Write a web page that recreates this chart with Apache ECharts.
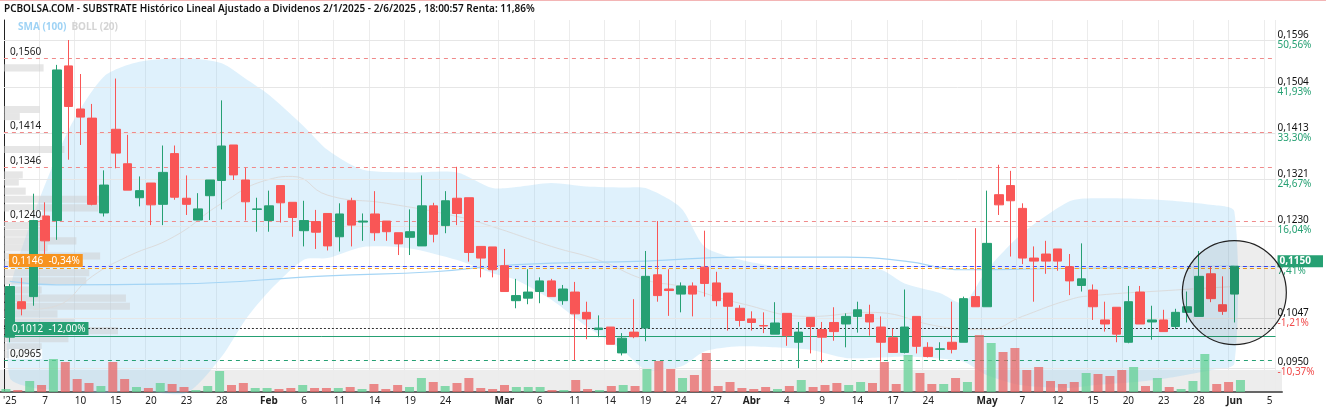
<!DOCTYPE html>
<html>
<head>
<meta charset="utf-8">
<script src="https://cdn.jsdelivr.net/npm/echarts@6/dist/echarts.min.js"></script>
<style>html,body{margin:0;padding:0;background:#fff}#c{width:1326px;height:411px}</style>
</head>
<body>
<div id="c"></div>
<script>
// trading days per month (day numbers)
const janDays = [2,3,6,7,8,9,10,13,14,15,16,17,20,21,22,23,24,27,28,29,30,31];
const febDays = [3,4,5,6,7,10,11,12,13,14,17,18,19,20,21,24,25,26,27,28];
const marDays = [3,4,5,6,7,10,11,12,13,14,17,18,19,20,21,24,25,26,27,28,31];
const aprDays = [1,2,3,4,7,8,9,10,11,14,15,16,17,22,23,24,25,28,29,30];
const mayDays = [2,5,6,7,8,9,12,13,14,15,16,19,20,21,22,23,26,27,28,29,30];
const junDays = [2,3,4,5];

// tick labels shown on the x axis
const tickKeys = ['1-2','1-7','1-10','1-15','1-20','1-23','1-28','2-3','2-6','2-11','2-14','2-19','2-24',
  '3-3','3-6','3-11','3-14','3-19','3-24','3-27','4-1','4-4','4-9','4-14','4-17','4-24',
  '5-2','5-7','5-12','5-15','5-20','5-23','5-28','6-2','6-5'];
const tickText = ["'25",'7','10','15','20','23','28','Feb','6','11','14','19','24',
  'Mar','6','11','14','19','24','27','Abr','4','9','14','17','24',
  'May','7','12','15','20','23','28','Jun','5'];

// [open, close, low, high]
const candles = [
[.1010,.1110,.1000,.1115],[.1080,.1066,.1053,.1127],[.1090,.1240,.1072,.1293],[.1249,.1200,.1169,.1276],
[.1240,.1537,.1202,.1547],[.1545,.1465,.1360,.1596],[.1460,.1444,.1389,.1529],[.1442,.1272,.1270,.1470],
[.1255,.1310,.1248,.1339],[.1420,.1373,.1343,.1520],[.1352,.1300,.1300,.1409],[.1285,.1299,.1268,.1327],
[.1314,.1271,.1231,.1314],[.1272,.1335,.1231,.1388],[.1372,.1286,.1281,.1388],[.1284,.1272,.1251,.1329],
[.1241,.1263,.1241,.1294],[.1289,.1320,.1241,.1320],[.1319,.1387,.1262,.1477],[.1389,.1330,.1320,.1389],
[.1320,.1277,.1240,.1344],[.1262,.1263,.1218,.1285],[.1240,.1269,.1218,.1299],[.1309,.1275,.1236,.1309],
[.1276,.1246,.1208,.1276],[.1220,.1240,.1189,.1279],[.1238,.1217,.1184,.1261],[.1254,.1190,.1181,.1254],
[.1208,.1253,.1179,.1274],[.1279,.1231,.1189,.1285],[.1237,.1239,.1200,.1254],[.1253,.1216,.1200,.1298],
[.1239,.1218,.1200,.1239],[.1216,.1194,.1172,.1216],[.1207,.1218,.1172,.1262],[.1190,.1269,.1190,.1329],
[.1269,.1213,.1197,.1275],[.1230,.1279,.1215,.1298],[.1284,.1254,.1231,.1346],[.1285,.1177,.1159,.1285],
[.1189,.1166,.1128,.1189],[.1188,.1143,.1128,.1188],[.1151,.1100,.1100,.1184],[.1082,.1092,.1067,.1125],
[.1087,.1099,.1075,.1144],[.1100,.1121,.1077,.1128],[.1121,.1090,.1090,.1125],[.1082,.1105,.1074,.1113],
[.1099,.1056,.0965,.1119],[.1059,.1046,.1006,.1080],[.1025,.1028,.1010,.1053],[.1030,.0996,.0996,.1030],
[.0979,.1008,.0974,.1018],[.1020,.1011,.1008,.1085],[.1028,.1130,.1002,.1180],[.1133,.1092,.1080,.1239],
[.1105,.1102,.1052,.1144],[.1095,.1111,.1059,.1118],[.1111,.1095,.1051,.1118],[.1148,.1116,.1090,.1220],
[.1117,.1082,.1071,.1139],[.1097,.1071,.1023,.1097],[.1067,.1043,.1031,.1073],[.1046,.1039,.1023,.1061],
[.1033,.1032,.1018,.1059],[.1016,.1038,.1016,.1079],[.1057,.1013,.0993,.1057],[.1000,.1020,.0949,.1040],
[.1049,.1031,.0978,.1049],[.1025,.1010,.0960,.1040],[.1039,.1021,.1003,.1069],[.1036,.1051,.0990,.1057],
[.1051,.1064,.1019,.1080],[.1055,.1040,.1013,.1074],[.1030,.1000,.0962,.1051],[.1009,.0980,.0980,.1027],
[.0980,.1030,.0978,.1104],[.1051,.0992,.0978,.1051],[.0990,.0972,.0970,.1000],[.0986,.0987,.0964,.1000],
[.1000,.0986,.0978,.1080],[.1000,.1086,.1000,.1090],[.1090,.1070,.1070,.1225],[.1070,.1195,.1070,.1299],
[.1291,.1271,.1251,.1350],[.1309,.1279,.1169,.1338],[.1264,.1166,.1154,.1274],[.1166,.1160,.1080,.1189],
[.1174,.1160,.1135,.1200],[.1184,.1160,.1141,.1184],[.1149,.1121,.1093,.1174],[.1112,.1125,.1100,.1195],
[.1103,.1070,.1044,.1114],[.1044,.1036,.1021,.1080],[.1069,.1016,.1000,.1069],[.1000,.1080,.0998,.1111],
[.1099,.1036,.1036,.1111],[.1040,.1044,.1005,.1072],[.1044,.1021,.1021,.1064],[.1031,.1059,.1026,.1066],
[.1059,.1070,.1039,.1100],[.1051,.1130,.1051,.1180],[.1135,.1086,.1079,.1149],[.1074,.1061,.1054,.1130],
[.1095,.1150,.1039,.1150]];

const volumes = [3,2,11,7,33,30,13,9,6,30,13,5,4,9,8,5,2,6,21,7,9,4,4,3,4,7,4,4,
  4,5,3,8,3,7,5,14,10,6,9,14,4,3,7,5,5,5,2,2,12,3,2,6,7,6,23,
  31,23,14,17,39,6,10,4,3,5,3,6,12,5,7,9,7,10,9,30,8,37,19,8,8,14,10,
  57,49,40,44,22,25,11,8,10,19,18,16,22,25,6,14,5,3,11,38,8,10,12];

// Bollinger (20) read at sample candles: index, upper, lower
const bandIdx = [0,2,5,8,11,15,18,20,22,25,27,30,34,38,41,43,46,49,52,54,57,59,62,65,68,71,74,76,79,81,83,86,90,92,97,102,104];
const bandUp  = [.1100,.1250,.1419,.1524,.1553,.1560,.1550,.1520,.1488,.1425,.1379,.1340,.1335,.1335,.1304,.1306,.1314,.1307,.1305,.1304,.1265,.1189,.1163,.1150,.1148,.1146,.1143,.1116,.1097,.1077,.1143,.1215,.1278,.1284,.1282,.1271,.1258];
const bandLo  = [.0930,.0910,.0905,.0900,.0905,.0900,.0972,.1044,.1100,.1163,.1166,.1188,.1185,.1162,.1136,.1123,.1084,.1031,.0985,.0946,.0952,.0982,.0992,.0990,.0985,.0969,.0970,.0972,.0968,.0962,.0935,.0915,.0910,.0915,.0925,.0945,.0958];
// BOLL middle
const midIdx = [2,4,7,10,14,18,22,24,27,32,38,41,46,50,54,57,62,68,73,79,82,83,86,90,92,99,104];
const midVal = [.1065,.1072,.1130,.1169,.1209,.1274,.1321,.1327,.1290,.1274,.1248,.1228,.1189,.1162,.1123,.1110,.1077,.1051,.1059,.1031,.1025,.1025,.1051,.1084,.1092,.1103,.1110];
// SMA (100)
const smaIdx = [0,4,14,27,36,43,54,62,71,76,81,88,104];
const smaVal = [.1120,.1113,.1115,.1131,.1139,.1153,.1160,.1168,.1168,.1160,.1143,.1145,.1150];

// volume-by-price profile: price, length
const profPrice = [.1540,.1458,.1444,.1379,.1329,.1315,.1297,.1281,.1264,.1229,.1214,.1199,.1185,.1169,.1153,.1136,.1120,.1102,.1086,.1070,.1055,.1039,.1022,.1006,.0990,.0975];
const profLen   = [40,36,16,61,19,15,22,100,95,38,42,73,44,97,63,86,83,38,123,127,54,71,115,65,38,30];

// right axis levels with their percentages
const rightLevels = [.1596,.1504,.1413,.1321,.1230,.1150,.1047,.0950];
const rightPct = ['50,56%','41,93%','33,30%','24,67%','16,04%','7,41%','-1,21%','-10,37%'];
const lastPrice = 0.1150;
const redLevels = [.1560,.1414,.1346,.1240];
const refLevels = [.1150,.1146,.1029,.1013,.0965];
const refLabels = ['', '0,1146  -0,34%', '', '0,1012  -12,00%', '0,0965'];

const months = [janDays,febDays,marDays,aprDays,mayDays,junDays];
const dates = [];
months.forEach((m, i) => m.forEach(d => dates.push((i + 1) + '-' + d)));
const isTick = (i) => tickKeys.indexOf(dates[i]) >= 0;

const fmt = (v, n) => v.toFixed(n).replace('.', ',');
const sparse = (idx, vals) => dates.map((d, i) => { const k = idx.indexOf(i); return k >= 0 ? vals[k] : null; });

const UP = '#26a073', DOWN = '#f95656';
const font = 'Noto Sans';

const refStyles = [
  { stroke: '#3b4cff', dash: [4, 3] },
  { stroke: '#f5a020', dash: [4, 3], box: '#f7931e' },
  { stroke: '#333', dash: [2, 2] },
  { stroke: '#26a073', dash: null, box: '#26a073' },
  { stroke: '#26a073', dash: [4, 4] }
];

const levelData = [
  ...rightLevels.map(v => [v, 'gray', '']),
  ...redLevels.map(v => [v, 'red', fmt(v, 4)]),
  ...refLevels.map((v, i) => [v, 'ref' + i, refLabels[i]])
];
const styleOf = (d) => d[1] === 'gray' ? { stroke: '#e6e6e6', dash: null }
  : d[1] === 'red' ? { stroke: '#f08a8a', dash: [4, 4] } : refStyles[+d[1].slice(3)];

const chart = echarts.init(document.getElementById('c'));

const option = {
  animation: false,
  backgroundColor: '#fff',
  title: [{
    text: 'PCBOLSA.COM - SUBSTRATE Histórico Lineal Ajustado a Dividenos 2/1/2025 - 2/6/2025 , 18:00:57 Renta: 11,86%',
    left: 4, top: 4, padding: 0,
    textStyle: { fontSize: 10, fontWeight: 600, color: '#111', fontFamily: font }
  }, {
    text: '{a|SMA (100)} {b|BOLL (20)}', left: 18, top: 18, padding: 0,
    textStyle: { rich: { a: { color: '#9fd3f5', fontSize: 10, fontWeight: 'bold', fontFamily: font }, b: { color: '#d4d4d4', fontSize: 10, fontWeight: 'bold', fontFamily: font } } }
  }],
  grid: [
    { left: 0, right: 44, top: 20, bottom: 19 },
    { left: 0, right: 44, top: 332, bottom: 19 },
    { left: 0, right: 44, top: 370, bottom: 19, show: true, backgroundColor: '#ededed', borderWidth: 0, z: 0 }
  ],
  xAxis: [
    { type: 'category', data: dates, gridIndex: 0, boundaryGap: true,
      axisLine: { lineStyle: { color: '#ccc' } }, axisTick: { show: false },
      axisLabel: { interval: 0, fontSize: 10, color: '#222', fontFamily: font, margin: 4,
        formatter: (v) => { const k = tickKeys.indexOf(v); if (k < 0) return ''; const t = tickText[k]; return /[A-Za-z]/.test(t) ? '{m|' + t + '}' : t; },
        rich: { m: { fontWeight: 'bold', fontSize: 10, fontFamily: font, color: '#222' } } },
      splitLine: { show: true, interval: (i) => isTick(i), lineStyle: { color: '#ececec' } } },
    { type: 'category', data: dates, gridIndex: 1, show: false, boundaryGap: true },
    { type: 'category', data: dates, gridIndex: 2, position: 'top', boundaryGap: true,
      axisLine: { lineStyle: { color: '#666', width: 2 } }, axisTick: { show: false }, axisLabel: { show: false } },
    { type: 'value', gridIndex: 0, min: 0, max: 1282, show: false }
  ],
  yAxis: [
    { type: 'value', gridIndex: 0, min: 0.09019, max: 0.16355, position: 'right',
      axisLine: { show: true, lineStyle: { color: '#222' } }, axisTick: { show: false }, splitLine: { show: false },
      axisLabel: { customValues: rightLevels, margin: 2, fontFamily: font, fontSize: 10, lineHeight: 10,
        formatter: (v) => {
          const k = rightLevels.findIndex(r => Math.abs(r - v) < 1e-6);
          const pct = rightPct[k] || '';
          const cls = pct.charAt(0) === '-' ? 'r' : 'g';
          if (Math.abs(v - lastPrice) < 1e-6) return '{last|' + fmt(v, 4) + '}\n{g|' + pct + '}';
          return '{v|' + fmt(v, 4) + '}\n{' + cls + '|' + pct + '}';
        },
        rich: {
          v: { color: '#111', fontSize: 10, fontFamily: font },
          g: { color: '#26a073', fontSize: 10, fontFamily: font },
          r: { color: '#f04a4a', fontSize: 10, fontFamily: font },
          last: { color: '#fff', backgroundColor: '#26a073', fontSize: 10, fontWeight: 'bold', padding: [1, 12, 1, 2], fontFamily: font }
        } } },
    { type: 'value', gridIndex: 1, min: 0, max: 60, show: false },
    { type: 'value', gridIndex: 2, show: false }
  ],
  series: [
    // Bollinger band polygon
    { type: 'custom', xAxisIndex: 0, yAxisIndex: 0, z: 1, silent: true,
      data: bandIdx.map((ix, k) => [dates[ix], bandUp[k], bandLo[k]]),
      renderItem: (params, api) => {
        if (params.dataIndex !== 0) return;
        const up = bandIdx.map((ix, k) => api.coord([dates[ix], bandUp[k]]));
        const lo = bandIdx.map((ix, k) => api.coord([dates[ix], bandLo[k]])).reverse();
        return { type: 'polygon', shape: { points: up.concat(lo), smooth: 0.25 }, style: { fill: 'rgba(140,205,245,0.28)' } };
      } },
    { type: 'custom', xAxisIndex: 3, yAxisIndex: 0, z: 1, silent: true,
      data: profPrice.map((p, i) => [profLen[i], p]),
      renderItem: (params, api) => {
        const a = api.coord([0, api.value(1) + 0.0008]);
        const b = api.coord([api.value(0), api.value(1) - 0.0008]);
        return { type: 'rect', shape: { x: a[0], y: a[1], width: b[0] - a[0], height: b[1] - a[1] - 1 }, style: { fill: 'rgba(205,205,205,0.5)' } };
      } },
    { type: 'line', xAxisIndex: 0, yAxisIndex: 0, data: sparse(midIdx, midVal), connectNulls: true, smooth: true,
      symbol: 'none', lineStyle: { width: 1, color: '#dcdcdc' }, silent: true, z: 2 },
    { type: 'line', xAxisIndex: 0, yAxisIndex: 0, data: sparse(smaIdx, smaVal), connectNulls: true, smooth: true,
      symbol: 'none', lineStyle: { width: 1.2, color: '#a5d5f5' }, silent: true, z: 2 },
    // horizontal reference levels (lines)
    { type: 'custom', xAxisIndex: 3, yAxisIndex: 0, z: 3, silent: true,
      data: levelData,
      renderItem: (params, api) => {
        const d = levelData[params.dataIndex];
        const st = styleOf(d);
        const y = Math.round(api.coord([0, d[0]])[1]) + 0.5;
        const x0 = params.coordSys.x, x1 = params.coordSys.x + params.coordSys.width;
        return { type: 'line', shape: { x1: x0, y1: y, x2: x1, y2: y }, style: { stroke: st.stroke, lineWidth: 1, lineDash: st.dash || 'solid' } };
      } },
    { type: 'bar', xAxisIndex: 1, yAxisIndex: 1, barWidth: 9, z: 3,
      data: volumes.map((v, i) => ({ value: v, itemStyle: { color: candles[i][1] >= candles[i][0] ? 'rgba(98,208,148,0.75)' : 'rgba(232,102,102,0.75)' } })) },
    { type: 'candlestick', xAxisIndex: 0, yAxisIndex: 0, barWidth: 9, z: 5,
      data: candles,
      itemStyle: { color: UP, color0: DOWN, borderColor: UP, borderColor0: DOWN, borderWidth: 1 } },
    // level labels above candles
    { type: 'custom', xAxisIndex: 3, yAxisIndex: 0, z: 7, silent: true,
      data: levelData,
      renderItem: (params, api) => {
        const d = levelData[params.dataIndex];
        if (!d[2]) return;
        const st = styleOf(d);
        const y = Math.round(api.coord([0, d[0]])[1]);
        return { type: 'text', x: params.coordSys.x + 5, y: y - 1, style: {
          text: d[2], fill: st.box ? '#fff' : '#222', font: '10px "Noto Sans"', verticalAlign: 'bottom',
          backgroundColor: st.box || 'rgba(255,255,255,0.8)', padding: st.box ? [2, 3, 1, 3] : [0, 1] } };
      } }
  ]
};
chart.setOption(option);

// highlight circle around the last candles
const c = chart.convertToPixel({ xAxisIndex: 0, yAxisIndex: 0 }, [dates[104], 0.1098]);
chart.setOption({ graphic: [
  { type: 'rect', shape: { x: 0, y: 0, width: 1326, height: 1 }, style: { fill: '#f3b5b5' }, silent: true },
  { type: 'circle', shape: { cx: c[0], cy: c[1], r: 52 }, style: { fill: 'rgba(0,0,0,0.07)', stroke: '#222', lineWidth: 1.2 }, z: 10, silent: true }
] });
</script>
</body>
</html>
